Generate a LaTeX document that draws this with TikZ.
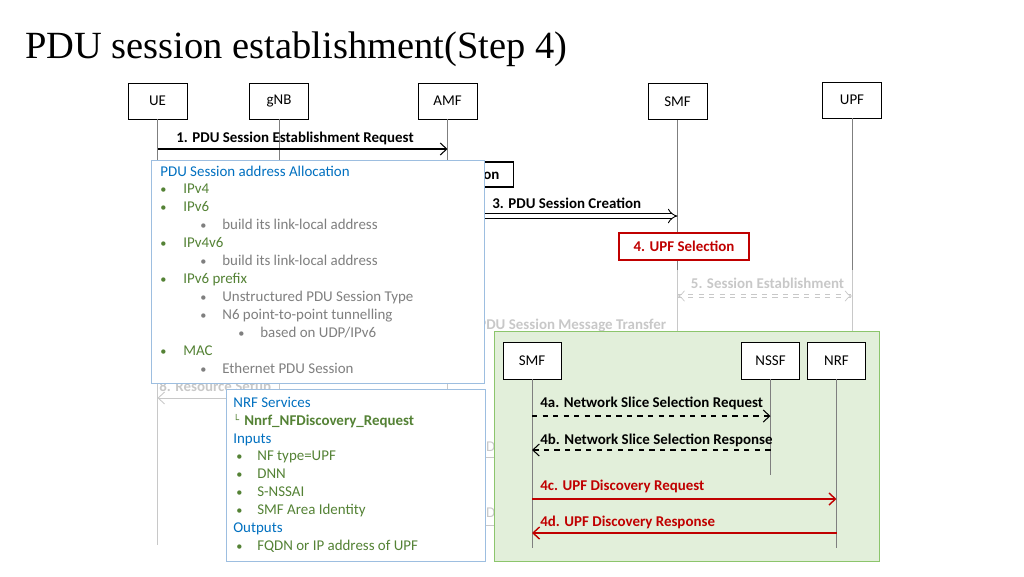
\documentclass[tikz,border=0pt]{standalone}
\usepackage{fontspec}
\setmainfont{Carlito}
\newfontfamily\titlefont{Liberation Serif}
\newfontfamily\symfont{DejaVu Sans}
\usetikzlibrary{arrows.meta}
\definecolor{tblue}{HTML}{0070C0}
\definecolor{tgreen}{HTML}{548235}
\definecolor{tgray}{HTML}{7F7F7F}
\definecolor{tred}{HTML}{C00000}
\definecolor{boxblue}{HTML}{9DBEE0}
\definecolor{gfill}{HTML}{E2EFDA}
\definecolor{gborder}{HTML}{8CC56C}
\definecolor{faint}{HTML}{C8C8C8}
\newcommand\dfs{\fontsize{8.5}{10}\selectfont}
\newcommand\bfs{\fontsize{7}{10}\selectfont}
\tikzset{
  hdr/.style={draw=black, fill=white, line width=0.5pt, minimum width=1.18cm, minimum height=0.72cm, inner sep=0pt, font=\dfs},
  life/.style={draw=tgray, line width=0.5pt},
  fline/.style={draw=faint, line width=0.5pt},
  lbl/.style={inner sep=0pt, font=\dfs\bfseries},
  txt/.style={anchor=mid west, inner sep=0pt, font=\dfs},
  bul/.style={anchor=mid west, inner sep=0pt, font=\bfs},
  msg/.style={draw=black, line width=0.6pt, -{Straight Barb[length=1.3mm,width=2.4mm]}},
  infobox/.style={draw=boxblue, line width=0.7pt, fill=white, anchor=north west, inner sep=0pt},
}
\begin{document}
\begin{tikzpicture}[x=0.02cm,y=-0.02cm]
\useasboundingbox (0,0) rectangle (1024,576);

% title
\node[anchor=base west, inner sep=0pt, font=\titlefont\fontsize{21.9}{26}\selectfont] (title) at (25,58) {PDU session establishment(Step 4)};

% header boxes
\node[hdr] (ue)  at (157.5,101) {UE};
\node[hdr] (gnb) at (279,101) {gNB};
\node[hdr] (amf) at (447.5,101) {AMF};
\node[hdr] (smf) at (677.5,101.5) {SMF};
\node[hdr] (upf) at (852,100) {UPF};

% helper coordinates
\coordinate (mid) at (0,300);
\coordinate (midb) at (0,270);
\coordinate (gtop) at (0,331);
\coordinate (bot) at (0,545);

% lifelines
\draw[life] (ue.south) -- (ue |- mid);
\draw[fline] (ue |- mid) -- (ue |- bot);
\draw[life] (gnb.south) -- (gnb |- mid);
\draw[fline] (gnb |- mid) -- (gnb |- bot);
\draw[life] (amf.south) -- (amf |- mid);
\draw[fline] (amf |- mid) -- (amf |- bot);
\draw[life] (smf.south) -- (smf |- midb);
\draw[fline] (smf |- midb) -- (smf |- gtop);
\draw[life] (upf.south) -- (upf |- midb);
\draw[fline] (upf |- midb) -- (upf |- gtop);

% message 1
\coordinate (m1) at (0,149);
\node[lbl] (l1) at (295,138) {1. PDU Session Establishment Request};
\draw[msg] (ue |- m1) -- (amf |- m1);

% step 2 box (mostly hidden)
\node[draw=black, fill=white, line width=0.6pt, anchor=east, minimum height=0.5cm, inner xsep=0.28cm, font=\dfs\bfseries] (sel) at (514,174.5) {2. SMF Selection};

% message 3
\coordinate (m3) at (0,216);
\node[lbl, anchor=mid west] (l3) at (492,204) {3. PDU Session Creation};
\draw[draw=black, line width=0.5pt, double, double distance=2.4pt, -{Implies}] (amf |- m3) -- (smf |- m3);

% step 4 box
\node[draw=tred, line width=0.6pt, fill=white, minimum width=2.6cm, minimum height=0.54cm, inner sep=0pt, text=tred, font=\dfs\bfseries] (s4) at (684,246.5) {4. UPF Selection};

% step 5 (faded)
\coordinate (m5a) at (0,294.5);
\coordinate (m5b) at (0,297.5);
\coordinate (m5) at (0,296);
\coordinate (s5l) at (683,0);
\coordinate (s5r) at (845,0);
\node[lbl, text=faint] (l5) at (767.5,283) {5. Session Establishment};
\draw[fline, dashed] (smf |- m5a) -- (upf |- m5a);
\draw[fline, dashed] (smf |- m5b) -- (upf |- m5b);
\draw[draw=faint, line width=0.4pt, double, double distance=1.8pt, -{Implies}] (s5l |- m5) -- (smf |- m5);
\draw[draw=faint, line width=0.4pt, double, double distance=1.8pt, -{Implies}] (s5r |- m5) -- (upf |- m5);

% faded hidden messages
\node[lbl, text=faint, anchor=mid west] (l6) at (478,325) {PDU Session Message Transfer};
\node[txt, text=faint] (h1) at (478,447) {PDU};
\node[txt, text=faint] (h2) at (478,513) {PDU};
\coordinate (m7) at (0,457);
\coordinate (m9) at (0,525);
\draw[fline] (amf |- m7) -- (smf |- m7);
\draw[fline] (amf |- m9) -- (smf |- m9);
\coordinate (m8) at (0,398);
\node[lbl, text=faint, anchor=mid west] (l8) at (159,387) {8. Resource Setup};
\draw[fline, -{Straight Barb[length=1.3mm,width=2.4mm]}] (gnb |- m8) -- (ue |- m8);

% green box
\node[draw=gborder, fill=gfill, line width=0.8pt, anchor=north west, minimum width=7.7cm, minimum height=4.6cm, inner sep=0pt] (green) at (494,331) {};
\node[hdr, minimum width=1.16cm, minimum height=0.74cm] (hsmf) at (532,360.5) {SMF};
\node[hdr, minimum width=1.16cm, minimum height=0.74cm] (nssf) at (770.5,360.5) {NSSF};
\node[hdr, minimum width=1.16cm, minimum height=0.74cm] (nrf)  at (836.5,360.5) {NRF};
\coordinate (gb) at (0,548);
\coordinate (nb) at (0,475);
\draw[life] (hsmf.south) -- (hsmf |- gb);
\draw[life] (nssf.south) -- (nssf |- nb);
\draw[life] (nrf.south) -- (nrf |- gb);

\coordinate (ma) at (0,416);
\coordinate (mb) at (0,450);
\coordinate (mc) at (0,499);
\coordinate (md) at (0,533);
\node[lbl, anchor=mid west] (la) at (540,403) {4a. Network Slice Selection Request};
\draw[msg, dashed] (hsmf |- ma) -- (nssf |- ma);
\node[lbl, anchor=mid west] (lb) at (540,440) {4b. Network Slice Selection Response};
\draw[msg, dashed] (nssf |- mb) -- (hsmf |- mb);
\node[lbl, anchor=mid west, text=tred] (lc) at (540,486) {4c. UPF Discovery Request};
\draw[msg, draw=tred, line width=0.8pt] (hsmf |- mc) -- (nrf |- mc);
\node[lbl, anchor=mid west, text=tred] (ld) at (540,522) {4d. UPF Discovery Response};
\draw[msg, draw=tred, line width=0.8pt] (nrf |- md) -- (hsmf |- md);

% address allocation box
\node[infobox, minimum width=6.66cm, minimum height=4.46cm] (alloc) at (151,160) {};
\node[txt, text=tblue] (a0) at (160,172) {PDU Session address Allocation};
\node[bul, text=tgreen] (b1) at (160,189) {•}; \node[txt, text=tgreen] (a1) at (183,189) {IPv4};
\node[bul, text=tgreen] (b2) at (160,207) {•}; \node[txt, text=tgreen] (a2) at (183,207) {IPv6};
\node[bul, text=tgray] (b3) at (200,225) {•}; \node[txt, text=tgray] (a3) at (222,225) {build its link-local address};
\node[bul, text=tgreen] (b4) at (160,243) {•}; \node[txt, text=tgreen] (a4) at (183,243) {IPv4v6};
\node[bul, text=tgray] (b5) at (200,261) {•}; \node[txt, text=tgray] (a5) at (222,261) {build its link-local address};
\node[bul, text=tgreen] (b6) at (160,279) {•}; \node[txt, text=tgreen] (a6) at (183,279) {IPv6 prefix};
\node[bul, text=tgray] (b7) at (200,297) {•}; \node[txt, text=tgray] (a7) at (222,297) {Unstructured PDU Session Type};
\node[bul, text=tgray] (b8) at (200,315) {•}; \node[txt, text=tgray] (a8) at (222,315) {N6 point-to-point tunnelling};
\node[bul, text=tgray] (b9) at (238,333) {•}; \node[txt, text=tgray] (a9) at (260,333) {based on UDP/IPv6};
\node[bul, text=tgreen] (b10) at (160,351) {•}; \node[txt, text=tgreen] (a10) at (183,351) {MAC};
\node[bul, text=tgray] (b11) at (200,369) {•}; \node[txt, text=tgray] (a11) at (222,369) {Ethernet PDU Session};

% NRF services box
\node[infobox, minimum width=5.18cm, minimum height=3.44cm] (nrfbox) at (226,389) {};
\node[txt, text=tblue] (n0) at (233,403) {NRF Services};
\node[txt, text=tgreen, font=\symfont\fontsize{5.5}{7}\selectfont] (n1s) at (233,419) {└};
\node[txt, text=tgreen, font=\dfs\bfseries] (n1) at (244,421) {Nnrf\_NFDiscovery\_Request};
\node[txt, text=tblue] (n2) at (233,439) {Inputs};
\node[bul, text=tgreen] (c3) at (236,456) {•}; \node[txt, text=tgreen] (n3) at (257,456) {NF type=UPF};
\node[bul, text=tgreen] (c4) at (236,474) {•}; \node[txt, text=tgreen] (n4) at (257,474) {DNN};
\node[bul, text=tgreen] (c5) at (236,492) {•}; \node[txt, text=tgreen] (n5) at (257,492) {S-NSSAI};
\node[bul, text=tgreen] (c6) at (236,510) {•}; \node[txt, text=tgreen] (n6) at (257,510) {SMF Area Identity};
\node[txt, text=tblue] (n7) at (233,528) {Outputs};
\node[bul, text=tgreen] (c8) at (236,546) {•}; \node[txt, text=tgreen] (n8) at (257,546) {FQDN or IP address of UPF};
\end{tikzpicture}
\end{document}
